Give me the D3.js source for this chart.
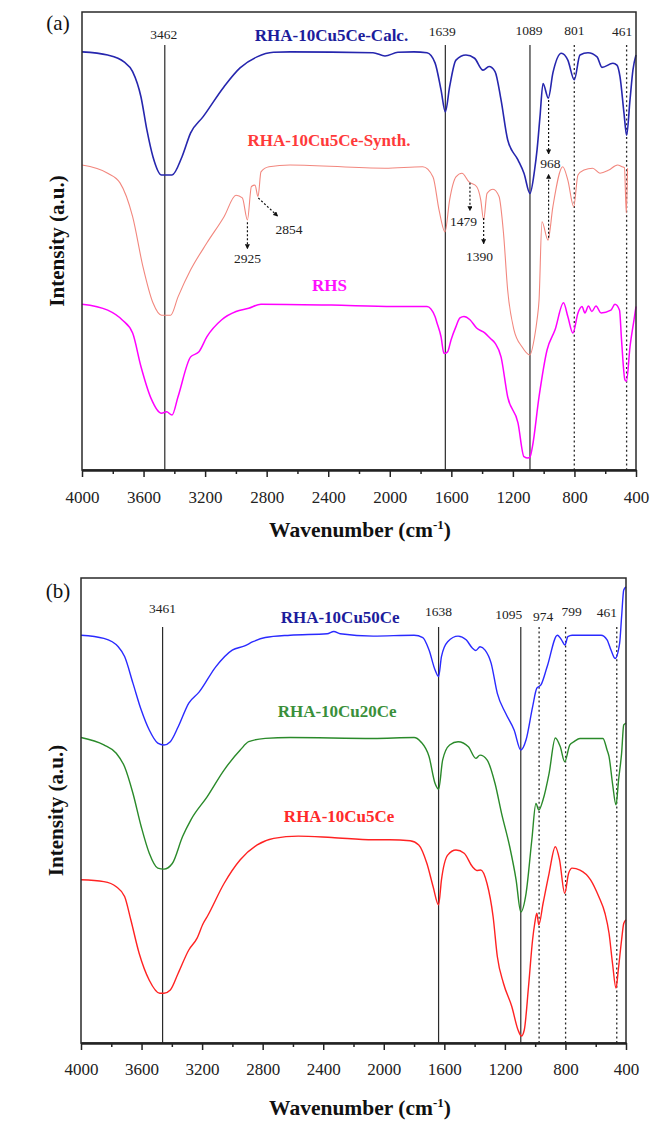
<!DOCTYPE html>
<html><head><meta charset="utf-8">
<script src="https://cdn.jsdelivr.net/npm/d3@7"></script>
<style>
body{margin:0;background:#fff}
svg{display:block}
text{font-family:"Liberation Serif","Times New Roman",serif}
</style>
</head><body>
<svg id="chart" width="651" height="1121"></svg>
<script>
// ---------- data ----------
const majorTicks = [4000, 3600, 3200, 2800, 2400, 2000, 1600, 1200, 800, 400];
const minorTicks = [3800, 3400, 3000, 2600, 2200, 1800, 1400, 1000, 600];

// Panel (a) series: [wavenumber, intensity (a.u.)]
const rhaCalc = [[4000,91.3],[3833,90.6],[3727,89.1],[3671,87.0],[3617,81.5],[3578,74.2],[3539,68.4],[3483,64.4],[3415,64.4],[3350,68.4],[3294,73.6],[3214,77.1],[3077,83.7],[2973,87.8],[2863,90.2],[2756,91.2],[2648,91.3],[2109,91.1],[2031,90.4],[1947,91.2],[1843,91.3],[1758,91.1],[1706,88.9],[1667,83.0],[1639,78.2],[1611,83.7],[1570,89.5],[1505,90.6],[1449,89.9],[1394,87.3],[1355,88.1],[1316,87.0],[1277,80.8],[1234,72.1],[1167,67.7],[1128,64.8],[1089,60.4],[1059,65.5],[1043,69.9],[1024,77.1],[1004,84.4],[970,81.2],[940,86.7],[885,91.0],[843,89.5],[801,85.2],[764,90.6],[712,91.1],[653,90.2],[621,87.9],[550,88.8],[524,88.4],[504,85.9],[478,77.9],[461,73.1],[439,80.8],[420,87.3],[400,90.6]];
const rhaSynth = [[4000,66.6],[3833,64.8],[3753,62.7],[3671,55.3],[3604,44.4],[3539,36.5],[3483,33.8],[3424,33.8],[3376,37.8],[3294,43.7],[3188,49.6],[3077,55.3],[2999,60.0],[2958,59.4],[2925,54.6],[2899,61.9],[2876,62.2],[2856,59.7],[2837,65.1],[2785,66.2],[2648,66.6],[2031,65.9],[1786,66.2],[1719,64.0],[1680,56.8],[1641,52.0],[1611,59.0],[1570,64.0],[1531,64.8],[1485,62.9],[1436,61.9],[1409,59.0],[1390,54.6],[1368,60.4],[1329,61.3],[1290,59.7],[1261,51.7],[1234,39.3],[1193,30.6],[1141,26.9],[1090,25.1],[1059,29.1],[1043,32.8],[1030,37.1],[1011,54.2],[972,50.2],[940,57.5],[876,66.2],[843,63.3],[805,57.5],[777,64.4],[738,65.5],[682,65.9],[634,64.8],[576,65.5],[520,66.6],[490,66.2],[475,66.0],[463,56.1],[455,65.9]];
const rhs = [[4000,36.2],[3833,34.9],[3740,32.8],[3671,29.9],[3617,22.6],[3552,15.7],[3483,12.4],[3450,12.7],[3415,12.0],[3376,16.0],[3294,24.7],[3240,25.8],[3188,29.1],[3092,32.8],[2999,34.6],[2917,35.3],[2837,36.2],[2379,36.0],[1975,35.7],[1758,35.7],[1706,33.5],[1693,32.1],[1667,29.1],[1648,25.5],[1638,25.5],[1624,25.8],[1602,28.4],[1570,31.3],[1544,33.2],[1518,33.5],[1479,32.8],[1436,31.0],[1381,29.9],[1349,28.8],[1316,27.7],[1277,24.7],[1234,16.0],[1167,10.3],[1128,2.9],[1102,2.6],[1089,2.8],[1073,5.1],[1030,16.0],[978,26.2],[926,30.6],[871,36.5],[843,33.5],[810,29.9],[777,34.3],[751,35.7],[732,34.3],[709,35.8],[687,34.6],[660,35.8],[627,34.3],[563,34.9],[537,36.2],[507,34.9],[494,28.4],[472,19.7],[462,19.4],[439,26.9],[413,32.8],[400,35.7]];

// Panel (b) series
const rha10Cu50Ce = [[4000,87.7],[3849,87.0],[3754,85.2],[3712,83.1],[3657,77.4],[3602,71.6],[3549,67.3],[3493,64.5],[3452,64.1],[3410,64.8],[3358,68.0],[3288,73.1],[3219,75.5],[3110,80.9],[3001,84.5],[2919,85.4],[2864,86.3],[2783,87.2],[2618,87.7],[2374,88.0],[2330,88.5],[2288,88.0],[2070,87.5],[1800,87.7],[1742,87.2],[1701,84.5],[1661,80.2],[1638,78.8],[1619,83.1],[1578,86.3],[1509,87.5],[1456,86.7],[1414,84.9],[1392,84.4],[1364,85.2],[1331,84.5],[1291,81.7],[1250,75.2],[1195,70.9],[1139,67.3],[1095,63.0],[1060,65.2],[1017,72.3],[989,76.3],[962,77.0],[921,80.9],[853,87.7],[826,86.7],[803,85.6],[784,87.4],[756,87.7],[565,87.7],[525,86.7],[499,84.5],[472,82.7],[442,86.0],[429,91.7],[415,97.4],[400,98.1]];
const rha10Cu20Ce = [[4000,65.7],[3849,64.1],[3767,62.3],[3712,59.4],[3657,53.7],[3602,46.5],[3549,40.8],[3493,37.6],[3452,37.4],[3397,38.6],[3329,44.4],[3274,48.0],[3166,53.0],[3055,58.7],[2948,63.0],[2892,64.8],[2783,65.5],[2618,65.7],[2070,65.5],[1800,65.7],[1756,64.8],[1701,61.6],[1661,55.8],[1638,54.6],[1611,60.9],[1565,64.1],[1509,64.8],[1441,63.7],[1392,61.2],[1364,61.9],[1318,60.9],[1265,55.8],[1222,49.4],[1168,42.2],[1126,35.1],[1095,28.2],[1060,32.2],[1022,43.7],[995,51.5],[976,50.1],[948,52.3],[908,58.0],[867,65.6],[834,63.7],[805,60.5],[771,64.1],[743,64.8],[704,65.5],[552,65.5],[525,63.0],[512,61.6],[489,55.8],[466,51.2],[449,56.6],[429,62.3],[415,68.4],[400,68.8]];
const rha10Cu5Ce = [[4000,35.1],[3849,34.7],[3767,33.6],[3712,31.5],[3671,26.5],[3616,19.3],[3549,13.5],[3480,10.7],[3452,10.7],[3410,11.4],[3358,15.0],[3288,20.0],[3234,22.5],[3193,25.7],[3166,27.2],[3055,34.3],[2948,39.4],[2836,42.6],[2727,44.0],[2565,44.5],[2344,44.2],[2070,43.7],[1961,43.7],[1826,43.5],[1769,42.6],[1715,38.6],[1674,33.6],[1638,29.7],[1619,35.1],[1578,40.4],[1523,41.5],[1469,40.8],[1414,37.9],[1386,37.1],[1359,37.2],[1318,34.3],[1278,27.2],[1250,18.6],[1209,12.8],[1154,7.8],[1113,2.8],[1091,1.5],[1072,2.8],[1044,12.1],[1017,22.2],[1003,25.7],[989,27.9],[976,25.4],[948,30.0],[908,36.5],[867,42.2],[839,39.4],[805,32.2],[779,36.5],[756,37.6],[704,37.2],[634,35.1],[580,31.5],[539,27.9],[512,23.6],[489,17.1],[466,11.8],[451,15.7],[429,22.2],[415,25.7],[400,26.5]];

// Reference peak lines
const peaksA = [3462, 1639, 1089, 801, 461];
const peaksB = [3461, 1638, 1095, 974, 799, 461];
const seriesNamesA = ["RHA-10Cu5Ce-Calc.", "RHA-10Cu5Ce-Synth.", "RHS"];
const seriesNamesB = ["RHA-10Cu50Ce", "RHA-10Cu20Ce", "RHA-10Cu5Ce"];
// Arrow-annotated peaks in (a)
const annotPeaksA = [2925, 2854, 1479, 1390, 968];

// ---------- drawing ----------
const svg = d3.select("#chart");
const defs = svg.append("defs");
defs.append("marker").attr("id","arrow").attr("viewBox","0 0 10 10")
  .attr("refX",9).attr("refY",5).attr("markerWidth",5).attr("markerHeight",5)
  .attr("orient","auto").attr("markerUnits","userSpaceOnUse")
  .append("path").attr("d","M0,0L10,5L0,10Z").attr("fill","#111");

const line = (x, y) => d3.line().x(d => x(d[0])).y(d => y(d[1])).curve(d3.curveMonotoneX);

function drawPanel(p) {
  const x = d3.scaleLinear().domain([4000, 400]).range([p.left, p.right]);
  const y = d3.scaleLinear().domain([0, 100]).range([p.bottom, p.top]);
  const g = svg.append("g");

  // reference lines + labels
  p.peaks.forEach((w, i) => {
    const dotted = p.dotted.includes(w);
    g.append("line").attr("x1", x(w)).attr("x2", x(w))
      .attr("y1", p.refTop).attr("y2", p.bottom)
      .attr("stroke", "#2a2a2a").attr("stroke-width", dotted ? 1.3 : 1.2)
      .attr("stroke-dasharray", dotted ? "2,2.6" : null);
    g.append("text").attr("x", x(w) + p.labelDx[i]).attr("y", p.labelY[i])
      .attr("text-anchor", "middle").attr("font-size", 13.5).attr("fill", "#222")
      .text(String(w));
  });

  // curves
  p.series.forEach(s => {
    g.append("path").attr("d", line(x, y)(s.data)).attr("fill", "none")
      .attr("stroke", s.color).attr("stroke-width", s.width)
      .attr("stroke-linejoin", "round");
  });

  // series names
  p.names.forEach((n, i) => {
    g.append("text").attr("x", x(p.nameAt[i][0])).attr("y", y(p.nameAt[i][1]))
      .attr("text-anchor", "middle").attr("font-size", 17).attr("font-weight", "bold")
      .attr("fill", p.nameColors[i]).text(n);
  });

  // frame
  g.append("rect").attr("x", p.left).attr("y", p.top)
    .attr("width", p.right - p.left).attr("height", p.bottom - p.top)
    .attr("fill", "none").attr("stroke", "#2a2a2a").attr("stroke-width", 1.5);

  // axes
  const minorAxis = d3.axisBottom(x).tickValues(minorTicks).tickSize(4).tickSizeOuter(0).tickFormat("");
  const majorAxis = d3.axisBottom(x).tickValues(majorTicks).tickSize(7).tickSizeOuter(0).tickFormat(d3.format("d"));
  const ga1 = g.append("g").attr("transform", `translate(0,${p.bottom})`).call(minorAxis);
  const ga2 = g.append("g").attr("transform", `translate(0,${p.bottom})`).call(majorAxis);
  [ga1, ga2].forEach(ga => {
    ga.select(".domain").attr("stroke", "#222").attr("stroke-width", 2);
    ga.selectAll(".tick line").attr("stroke", "#222").attr("stroke-width", 1.5);
  });
  ga2.selectAll(".tick text").attr("y", p.tickLabelDy).attr("dy", 0)
    .attr("font-size", 17).attr("fill", "#222")
    .style("font-family", '"Liberation Serif","Times New Roman",serif');

  // axis titles
  const t = g.append("text").attr("x", 360).attr("y", p.xTitleY)
    .attr("text-anchor", "middle").attr("font-size", 21.5).attr("font-weight", "bold").attr("fill", "#111");
  t.append("tspan").text("Wavenumber (cm");
  t.append("tspan").attr("dy", -8).attr("font-size", 13).text("-1");
  t.append("tspan").attr("dy", 8).text(")");

  g.append("text").attr("transform", `translate(${p.yTitleX},${(p.top + p.bottom) / 2}) rotate(-90)`)
    .attr("text-anchor", "middle").attr("font-size", 21).attr("font-weight", "bold").attr("fill", "#111")
    .text("Intensity (a.u.)");

  g.append("text").attr("x", 58).attr("y", p.letterY).attr("text-anchor", "middle")
    .attr("font-size", 21).attr("fill", "#111").text(p.letter);

  return { x, y, g };
}

// Panel (a)
const A = drawPanel({
  left: 82, right: 636, top: 12, bottom: 470, refTop: 45,
  peaks: peaksA, dotted: [801, 461],
  labelDx: [-1, -3, -1, 0, -4.5], labelY: [39, 36, 35, 35, 36],
  series: [
    { data: rhaCalc, color: "#2626ae", width: 1.6 },
    { data: rhaSynth, color: "#f2877e", width: 1.1 },
    { data: rhs, color: "#ff00ff", width: 1.5 }
  ],
  names: seriesNamesA,
  nameAt: [[2379, 93.7], [2395, 70.7], [2392, 39.1]],
  nameColors: ["#1c1c9c", "#ff3a3a", "#ff10ff"],
  tickLabelDy: 33, xTitleY: 537, yTitleX: 64, letter: "(a)", letterY: 30
});

// arrows in (a)
(function () {
  const { x, y, g } = A;
  const arrows = [
    { from: [2925, 54.1], to: [2925, 48.3] },
    { from: [2854, 59.4], to: [2728, 55.4] },
    { from: [1479, 62.7], to: [1479, 56.6] },
    { from: [1390, 55.0], to: [1390, 49.4] },
    { from: [968, 80.8], to: [968, 69.0] },
    { from: [968, 50.7], to: [968, 64.6] }
  ];
  arrows.forEach(a => {
    g.append("line").attr("x1", x(a.from[0])).attr("y1", y(a.from[1]))
      .attr("x2", x(a.to[0])).attr("y2", y(a.to[1]))
      .attr("stroke", "#111").attr("stroke-width", 1.2).attr("stroke-dasharray", "2,2")
      .attr("marker-end", "url(#arrow)");
  });
  const labels = [[2925, 45.3], [2655, 51.6], [1521, 53.3], [1417, 45.6], [956, 65.9]];
  annotPeaksA.forEach((w, i) => {
    g.append("text").attr("x", x(labels[i][0])).attr("y", y(labels[i][1]))
      .attr("text-anchor", "middle").attr("font-size", 13.5).attr("fill", "#222").text(String(w));
  });
})();

// Panel (b)
drawPanel({
  left: 81, right: 626, top: 578, bottom: 1043, refTop: 627,
  peaks: peaksB, dotted: [974, 799, 461],
  labelDx: [0, 0, -12, 4, 6, -10], labelY: [613, 616, 618.5, 621, 616, 616.5],
  series: [
    { data: rha10Cu50Ce, color: "#2a2aff", width: 1.4 },
    { data: rha10Cu20Ce, color: "#2a8a2a", width: 1.4 },
    { data: rha10Cu5Ce, color: "#ff2222", width: 1.4 }
  ],
  names: seriesNamesB,
  nameAt: [[2288, 90.4], [2308, 70.2], [2295, 47.5]],
  nameColors: ["#1c1c9c", "#3a8f3a", "#ff2a2a"],
  tickLabelDy: 32, xTitleY: 1115, yTitleX: 63, letter: "(b)", letterY: 598
});
</script>
</body></html>
